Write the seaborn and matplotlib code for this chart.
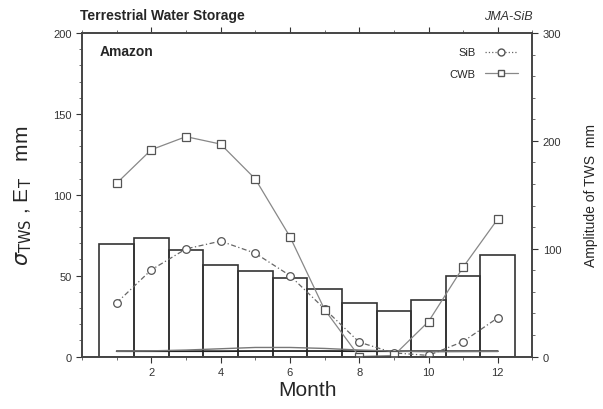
import matplotlib
matplotlib.use('Agg')
import matplotlib.pyplot as plt
import seaborn as sns
import numpy as np
from matplotlib.lines import Line2D
from matplotlib.ticker import MultipleLocator

months = [1, 2, 3, 4, 5, 6, 7, 8, 9, 10, 11, 12]
month_ticks = [2, 4, 6, 8, 10, 12]
# E_T bars (left axis, mm)
et_bars = [69.6, 73.2, 66.1, 56.7, 53.1, 48.4, 41.8, 33.2, 28.0, 35.2, 49.9, 62.8]
# sigma TWS (left axis, mm)
sigma_sib = [3.3, 3.3, 3.3, 3.3, 3.4, 3.4, 3.4, 3.3, 3.3, 3.3, 3.3, 3.3]
sigma_cwb = [3.3, 3.5, 4.0, 4.8, 5.6, 5.6, 5.0, 4.0, 3.4, 3.0, 3.1, 3.2]
# amplitude of TWS (right axis, mm)
amp_sib = [49.8, 80.4, 99.8, 107.0, 95.8, 75.1, 44.2, 13.3, 3.4, 1.0, 13.9, 35.9]
amp_cwb = [160.7, 191.8, 203.9, 197.0, 164.7, 111.2, 43.6, 0.0, 1.0, 32.4, 82.9, 127.6]

sns.set_style('ticks')
plt.rcParams['font.family'] = ['Liberation Sans', 'DejaVu Sans']

fig = plt.figure(figsize=(6.03, 4.10), dpi=100)
ax = fig.add_axes([0.136, 0.128, 0.747, 0.789])

sns.barplot(x=months, y=et_bars, native_scale=True, width=1.0, fill=False,
            color='#333333', linewidth=1.2, ax=ax, errorbar=None)
sns.lineplot(x=months, y=sigma_sib, color='#222222', linewidth=1.3, ax=ax)
sns.lineplot(x=months, y=sigma_cwb, color='#777777', linewidth=1.0, ax=ax)

ax.set_xlim(0, 13)
ax.set_ylim(0, 200)
ax.set_xticks(month_ticks)
ax.xaxis.set_minor_locator(MultipleLocator(1))
ax.yaxis.set_major_locator(MultipleLocator(50))
ax.yaxis.set_minor_locator(MultipleLocator(10))
ax.tick_params(axis='both', which='major', labelsize=8, length=4, width=0.8, colors='#333333')
ax.tick_params(axis='both', which='minor', length=2, width=0.6, colors='#555555')
ax.tick_params(axis='x', top=True, which='both')
for s in ax.spines.values():
    s.set_color('#444444')
    s.set_linewidth(1.2)
ax.set_xlabel('Month', fontsize=15, labelpad=2)
ax.set_ylabel(r'$\sigma_{\mathrm{TWS}}$ , E$_{\mathrm{T}}$   mm', fontsize=15, labelpad=14)

ax2 = ax.twinx()
sns.lineplot(x=months, y=amp_sib, ax=ax2, color='#666666', linewidth=0.9,
             linestyle=(0, (4, 2, 1, 2)), marker='o', markersize=5.5,
             markerfacecolor='white', markeredgecolor='#555555', markeredgewidth=0.9)
sns.lineplot(x=months, y=amp_cwb, ax=ax2, color='#888888', linewidth=0.9,
             marker='s', markersize=5.5,
             markerfacecolor='white', markeredgecolor='#555555', markeredgewidth=0.9)
ax2.set_ylim(0, 300)
ax2.yaxis.set_major_locator(MultipleLocator(100))
ax2.yaxis.set_minor_locator(MultipleLocator(20))
ax2.tick_params(axis='y', which='major', labelsize=8, length=4, width=0.8, colors='#333333')
ax2.tick_params(axis='y', which='minor', length=2, width=0.6, colors='#555555')
ax2.set_ylabel('Amplitude of TWS  mm', fontsize=10, labelpad=16)
for s in ax2.spines.values():
    s.set_color('#444444')
    s.set_linewidth(1.2)

handles = [
    Line2D([], [], color='#666666', linewidth=0.9, linestyle=':', marker='o', markersize=5,
           markerfacecolor='white', markeredgecolor='#555555'),
    Line2D([], [], color='#888888', linewidth=0.9, marker='s', markersize=5,
           markerfacecolor='white', markeredgecolor='#555555'),
]
ax2.legend(handles, ['SiB', 'CWB'], loc='upper right', frameon=False, fontsize=8,
           markerfirst=False, handlelength=3, labelspacing=1.0, borderaxespad=0.9)

ax.text(0.04, 0.965, 'Amazon', transform=ax.transAxes, fontsize=10, fontweight='bold',
        ha='left', va='top')
fig.text(0.133, 0.945, 'Terrestrial Water Storage', fontsize=10, fontweight='bold',
         ha='left', va='bottom')
fig.text(0.883, 0.945, 'JMA-SiB', fontsize=9, style='italic', ha='right', va='bottom',
         color='#333333')

fig.savefig('out.png', dpi=100)
